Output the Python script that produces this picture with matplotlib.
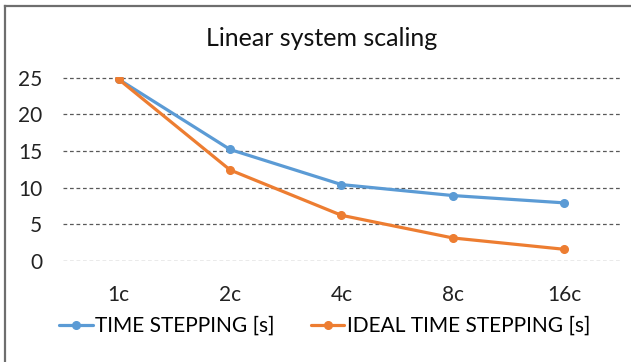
import matplotlib
matplotlib.use("Agg")
import matplotlib.pyplot as plt
from matplotlib.lines import Line2D

plt.rcParams['font.family'] = ['Lato', 'DejaVu Sans']

cores = ['1c', '2c', '4c', '8c', '16c']
time_stepping = [24.8, 15.2, 10.4, 8.9, 7.9]
ideal_stepping = [24.8, 12.4, 6.2, 3.1, 1.55]
series_names = ['TIME STEPPING [s]', 'IDEAL TIME STEPPING [s]']

blue = '#5B9BD5'
orange = '#ED7D31'

fig = plt.figure(figsize=(6.31, 3.62), dpi=100)
ax = fig.add_axes([0.0998, 0.279, 0.8828, 0.507])

x = range(len(cores))
ax.plot(x, time_stepping, color=blue, lw=2.3, marker='o', ms=5.5,
        label=series_names[0], solid_capstyle='round')
ax.plot(x, ideal_stepping, color=orange, lw=2.3, marker='o', ms=5.5,
        label=series_names[1], solid_capstyle='round')

ax.set_xlim(-0.5, len(cores) - 0.5)
ax.set_yticks([0, 5, 10, 15, 20, 25])
ax.set_xticks(list(x))
ax.set_xticklabels(cores)
ax.grid(axis='y', color='#595959', linestyle=(0, (3, 2.2)), lw=0.9)
ax.set_axisbelow(True)
for s in ax.spines.values():
    s.set_visible(False)
ax.tick_params(length=0, labelsize=15, colors='#222222')
ax.tick_params(axis='y', pad=15)
ax.tick_params(axis='x', pad=17)
ax.set_ylim(-0.05, 25.05)

fig.text(0.51, 0.894, 'Linear system scaling', ha='center', va='center',
         fontsize=18, color='#111111')

ax.legend(loc='upper center', bbox_to_anchor=(0.47, -0.30), ncol=2,
          frameon=False, fontsize=15, handlelength=1.6, handletextpad=0.12,
          columnspacing=1.75, borderaxespad=0, borderpad=0)

# chart area frame (only top and left visible in the crop)
fig.add_artist(Line2D([5 / 631, 5 / 631], [0, 1 - 6 / 362], color='#6e6e6e', lw=1.6))
fig.add_artist(Line2D([5 / 631, 1], [1 - 6 / 362, 1 - 6 / 362], color='#6e6e6e', lw=1.6))

fig.savefig('out.png', dpi=100)
